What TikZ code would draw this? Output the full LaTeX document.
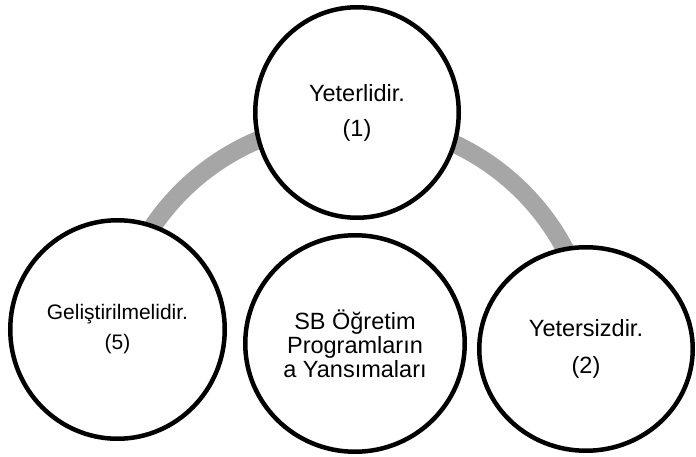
\documentclass[tikz,border=0pt]{standalone}
\usepackage{fontspec}
\setmainfont{Liberation Sans}
\usetikzlibrary{shapes.geometric}
\definecolor{arcgray}{RGB}{166,166,166}
\begin{document}
\begin{tikzpicture}[x=1pt,y=1pt,
  bub/.style={ellipse, draw=black, line width=4.5pt, fill=white, inner sep=0pt, align=center},
  ring/.style={draw=arcgray, line width=18pt}]
\useasboundingbox (0,0) rectangle (696,456);
\coordinate (hub) at (352,94);
\draw[ring] (hub) ++(150:241) arc[start angle=150, end angle=25, radius=241];
\node[bub, minimum width=203.5pt, minimum height=210.5pt, font=\fontsize{23.5}{35}\selectfont] (n1) at (357,343.5) {Yeterlidir.\\(1)};
\node[bub, minimum width=214.5pt, minimum height=218.5pt, font=\fontsize{21}{30}\selectfont] (n5) at (117.5,126.5) {Geliştirilmelidir.\\(5)};
\node[bub, minimum width=219.5pt, minimum height=216.5pt, font=\fontsize{23.5}{24}\selectfont] (c) at (355,112.5) {SB Öğretim\\Programların\\a Yansımaları};
\node[bub, minimum width=213.5pt, minimum height=203.5pt, font=\fontsize{23.5}{37}\selectfont] (n2) at (586,107) {Yetersizdir.\\(2)};
\end{tikzpicture}
\end{document}
